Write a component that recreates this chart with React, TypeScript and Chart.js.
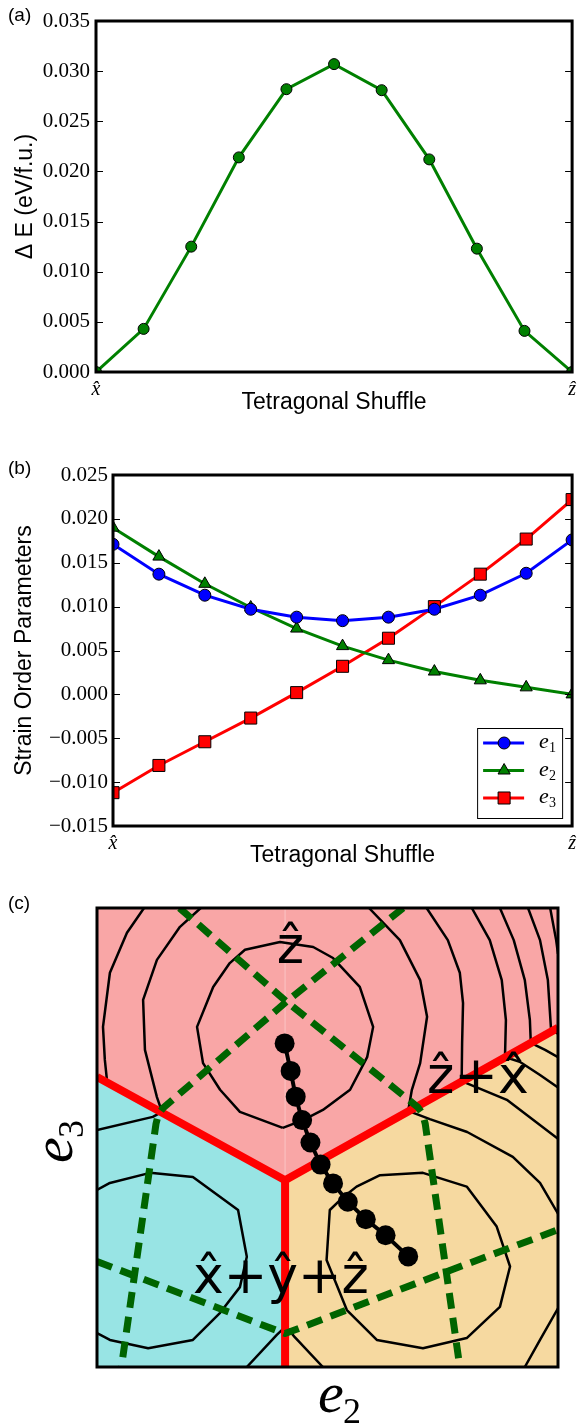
import React, { useEffect, useRef } from 'react';
import { Chart, registerables } from 'chart.js';
import { drawPoint } from 'chart.js/helpers';

Chart.register(...registerables);

// ---------------- Panel (a) data ----------------
const SHUFFLE_STEPS = [0, 1, 2, 3, 4, 5, 6, 7, 8, 9, 10];
const DELTA_E = [0.0, 0.0043, 0.0125, 0.0214, 0.0282, 0.0307, 0.0281, 0.0212, 0.0123, 0.0041, 0.0];
const X_TICK_VALUES = [0, 10];
const X_TICK_LABELS = ['x\u0302', 'z\u0302'];

// ---------------- Panel (b) data ----------------
const E1 = [0.0171, 0.0137, 0.0113, 0.0097, 0.0088, 0.0084, 0.0088, 0.0097, 0.0113, 0.0138, 0.0176];
const E2 = [0.019, 0.0157, 0.0126, 0.0099, 0.0075, 0.0055, 0.0039, 0.0026, 0.0016, 0.0008, 0.0];
const E3 = [-0.0112, -0.0081, -0.0054, -0.0027, 0.0002, 0.0032, 0.0064, 0.01, 0.0137, 0.0177, 0.0222];
const STRAIN_NAMES = ['e1', 'e2', 'e3'];

// ---------------- Panel (c) data (e2, e3 in plot units 0..100) ----------------
const REGION_Z = [[0, 100], [100, 100], [100, 73.9], [40.8, 40.7], [0, 63.2]];
const REGION_XYZ = [[0, 63.2], [40.8, 40.7], [40.8, 0], [0, 0]];
const REGION_ZX = [[40.8, 0], [40.8, 40.7], [100, 73.9], [100, 0]];
const REGION_SEAM = [[40.8, 40.7], [40.8, 100]];

const BOUNDARY_UPPER = [[0, 63.2], [40.8, 40.7], [100, 73.9]];
const BOUNDARY_LOWER = [[40.8, 40.7], [40.8, 0]];

const CONTOUR_Z_INNER = [[40.3, 52.1], [31.0, 55.6], [26.7, 60.4], [23.0, 66.2], [21.7, 74.1], [25.2, 82.8], [28.8, 88.0], [32.1, 90.9], [39.7, 92.6], [46.9, 91.5], [51.2, 89.1], [57.0, 82.8], [59.9, 74.1], [58.6, 67.5], [54.9, 60.4], [49.0, 56.0], [44.7, 53.8], [40.3, 52.1]];
const CONTOUR_ZX_INNER = [[53.4, 37.0], [56.3, 39.3], [61.4, 41.8], [70.7, 42.3], [80.2, 39.3], [86.7, 30.6], [89.6, 21.9], [87.4, 13.1], [80.2, 6.3], [70.7, 4.1], [60.7, 5.9], [54.2, 12.4], [49.8, 23.3], [50.5, 34.2], [53.4, 37.0]];
const CONTOUR_XYZ_INNER = [[0, 38.6], [2.8, 40.1], [11.5, 42.3], [20.8, 41.4], [30.6, 34.2], [32.5, 24.0], [31.0, 17.4], [26.7, 11.8], [20.8, 5.9], [11.1, 4.1], [2.8, 5.9], [0, 7.4]];
const CONTOUR_RING2_LEFT = [[0, 51.6], [12.1, 54.5], [14.1, 55.6], [13.0, 58.8], [10.4, 69.1], [10.0, 80.0], [13.0, 88.7], [18.0, 95.9], [22.5, 100]];
const CONTOUR_RING2_RIGHT = [[59.0, 100], [65.7, 93.0], [70.1, 84.3], [71.6, 76.3], [70.1, 66.2], [68.3, 60.4], [67.5, 55.8], [72.2, 54.0], [80.3, 51.2], [90.2, 45.8], [96.1, 40.1], [100, 33.4]];
const CONTOUR_RING2_BOTTOM = [[32.5, 0], [39.0, 7.0], [41.0, 8.9], [42.9, 6.5], [49.0, 0]];
const CONTOUR_RING2_CORNER = [[100, 12.8], [96.1, 5.9], [92.8, 0]];
const CONTOUR_RING3_LEFT = [[10.2, 100], [6.5, 94.6], [2.8, 85.9], [1.3, 74.1], [1.7, 66.9], [2.2, 62.1]];
const CONTOUR_RING3_RIGHT = [[71.5, 100], [76.1, 93.0], [78.7, 85.9], [79.4, 79.3], [79.2, 70.6], [79.1, 62.3], [88.9, 58.2], [100, 49.7]];
const CONTOUR_RING4 = [[81.3, 100], [85.2, 93.0], [87.8, 84.3], [88.7, 75.6], [88.5, 67.5], [91.7, 66.5], [96.1, 63.6], [100, 60.9]];
const CONTOUR_RING5 = [[87.4, 100], [90.4, 93.0], [92.8, 84.3], [93.9, 75.6], [94.1, 70.6], [97.2, 69.1], [100, 67.5]];
const CONTOUR_RING6 = [[93.5, 100], [96.1, 93.0], [97.8, 84.3], [98.5, 73.4], [100, 72.6]];
const CONTOUR_RING7 = [[98.3, 100], [99.6, 93.0], [100, 90.0]];
const CONTOURS = [
  CONTOUR_Z_INNER, CONTOUR_ZX_INNER, CONTOUR_XYZ_INNER, CONTOUR_RING2_LEFT, CONTOUR_RING2_RIGHT,
  CONTOUR_RING2_BOTTOM, CONTOUR_RING2_CORNER, CONTOUR_RING3_LEFT, CONTOUR_RING3_RIGHT,
  CONTOUR_RING4, CONTOUR_RING5, CONTOUR_RING6, CONTOUR_RING7,
];

const GREEN_A = [[17.9, 100], [41.1, 79.6], [69.6, 56.6], [70.6, 55.2], [71.2, 53.0], [78.7, 0]];
const GREEN_B = [[66.4, 100], [41.1, 79.6], [14.3, 56.4], [13.3, 55.0], [12.8, 53.0], [5.3, 0]];
const GREEN_C = [[0, 23.0], [38.9, 8.0], [40.8, 7.3], [42.7, 8.0], [75.4, 20.6], [100, 29.9]];

const PATH_E2 = [40.7, 42.0, 43.1, 44.5, 46.3, 48.5, 51.2, 54.4, 58.3, 62.6, 67.5];
const PATH_E3 = [70.5, 64.5, 58.9, 53.8, 48.9, 44.1, 40.0, 36.0, 32.2, 28.7, 24.1];

const REGION_LABELS = ['\u1E91', '\u1E91+x\u0302', 'x\u0302+\u0177+\u1E91'];
const REGION_LABEL_AT = [[39.0, 88.0], [71.6, 59.7], [20.8, 16.1]];

// ---------------- styling ----------------
const SERIF = '"Liberation Serif", "Times New Roman", serif';
const SANS = '"Liberation Sans", Arial, sans-serif';

const fmtTick = (v: any) => {
  const n = Number(v);
  const s = Math.abs(n).toFixed(3);
  return (n < -1e-9 ? '\u2212' : '') + s;
};

function axesDecor(o: { panel: string; px: number; py: number; yTitle: string; yTitleX: number; xTitle: string; xTitleY: number }) {
  return {
    id: 'axesDecor',
    afterDraw(chart: any) {
      const { ctx, chartArea: a, scales } = chart;
      ctx.save();
      ctx.strokeStyle = '#000';
      ctx.lineWidth = 1;
      const ys = scales.y;
      ys.ticks.forEach((t: any) => {
        const py = Math.round(ys.getPixelForValue(t.value)) + 0.5;
        ctx.beginPath();
        ctx.moveTo(a.left, py);
        ctx.lineTo(a.left + 7, py);
        ctx.moveTo(a.right, py);
        ctx.lineTo(a.right - 7, py);
        ctx.stroke();
      });
      ctx.lineWidth = 3;
      ctx.strokeRect(a.left, a.top, a.right - a.left, a.bottom - a.top);
      ctx.fillStyle = '#000';
      ctx.font = `23px ${SANS}`;
      ctx.textAlign = 'center';
      ctx.textBaseline = 'alphabetic';
      ctx.fillText(o.xTitle, (a.left + a.right) / 2, o.xTitleY);
      ctx.save();
      ctx.translate(o.yTitleX, (a.top + a.bottom) / 2);
      ctx.rotate(-Math.PI / 2);
      ctx.fillText(o.yTitle, 0, 0);
      ctx.restore();
      ctx.font = `19px ${SANS}`;
      ctx.textAlign = 'left';
      ctx.fillText(o.panel, o.px, o.py);
      ctx.restore();
    },
  };
}

function lineOptions(yMin: number, yMax: number, yWidth: number, xHeight: number, padding: any, yPad: number) {
  return {
    responsive: false,
    animation: false,
    events: [],
    layout: { padding },
    plugins: { legend: { display: false }, tooltip: { enabled: false } },
    scales: {
      x: {
        type: 'linear',
        min: 0,
        max: 10,
        afterBuildTicks: (s: any) => {
          s.ticks = X_TICK_VALUES.map((v) => ({ value: v }));
        },
        afterFit: (s: any) => {
          s.height = xHeight;
        },
        grid: { display: false, drawTicks: false },
        border: { display: false },
        ticks: {
          padding: 6,
          maxRotation: 0,
          autoSkip: false,
          color: '#000',
          font: { family: SERIF, size: 20, style: 'italic' },
          callback: (_v: any, i: number) => X_TICK_LABELS[i],
        },
      },
      y: {
        type: 'linear',
        min: yMin,
        max: yMax,
        afterFit: (s: any) => {
          s.width = yWidth;
        },
        grid: { display: false, drawTicks: false },
        border: { display: false },
        ticks: { stepSize: 0.005, padding: yPad, color: '#000', font: { family: SERIF, size: 21 }, callback: fmtTick },
      },
    },
  };
}

function PanelA() {
  const ref = useRef<HTMLCanvasElement>(null);
  useEffect(() => {
    const chart = new Chart(ref.current as HTMLCanvasElement, {
      type: 'line',
      data: {
        datasets: [
          {
            data: SHUFFLE_STEPS.map((x, i) => ({ x, y: DELTA_E[i] })),
            borderColor: '#008000',
            backgroundColor: '#008000',
            borderWidth: 3,
            pointRadius: 5.5,
            pointBackgroundColor: '#008000',
            pointBorderColor: '#000',
            pointBorderWidth: 1,
            tension: 0,
            clip: 0,
          },
        ],
      },
      options: lineOptions(0, 0.035, 96, 48, { left: 0, top: 21, right: 5, bottom: 0 }, 6) as any,
      plugins: [axesDecor({ panel: '(a)', px: 8, py: 21, yTitle: '\u0394 E (eV/f.u.)', yTitleX: 32, xTitle: 'Tetragonal Shuffle', xTitleY: 409 })],
    } as any);
    return () => chart.destroy();
  }, []);
  return <canvas ref={ref} width={582} height={420} style={{ position: 'absolute', left: 0, top: 0, width: 582, height: 420 }} />;
}

const strainLegend = {
  id: 'strainLegend',
  afterDraw(chart: any) {
    const { ctx, chartArea: a } = chart;
    const w = 85;
    const h = 90;
    const x0 = a.right - 10 - w;
    const y0 = a.bottom - 8 - h;
    ctx.save();
    ctx.fillStyle = '#fff';
    ctx.fillRect(x0, y0, w, h);
    ctx.strokeStyle = '#000';
    ctx.lineWidth = 1;
    ctx.strokeRect(x0 + 0.5, y0 + 0.5, w, h);
    chart.data.datasets.forEach((ds: any, i: number) => {
      const cy = y0 + 15 + i * 27.5;
      ctx.strokeStyle = ds.borderColor;
      ctx.lineWidth = 3;
      ctx.beginPath();
      ctx.moveTo(x0 + 6, cy);
      ctx.lineTo(x0 + 47, cy);
      ctx.stroke();
      ctx.fillStyle = ds.pointBackgroundColor;
      ctx.strokeStyle = '#000';
      ctx.lineWidth = 1;
      drawPoint(ctx, { pointStyle: ds.pointStyle, radius: ds.pointRadius, rotation: 0, borderWidth: 1 } as any, x0 + 27, cy);
      ctx.fillStyle = '#000';
      ctx.textAlign = 'left';
      ctx.textBaseline = 'alphabetic';
      ctx.font = `italic 22px ${SERIF}`;
      ctx.fillText(ds.label.charAt(0), x0 + 62, cy + 5);
      ctx.font = `14px ${SERIF}`;
      ctx.fillText(ds.label.slice(1), x0 + 72, cy + 9);
    });
    ctx.restore();
  },
};

function PanelB() {
  const ref = useRef<HTMLCanvasElement>(null);
  useEffect(() => {
    const mk = (label: string, vals: number[], color: string, style: string, r: number) => ({
      label,
      data: SHUFFLE_STEPS.map((x, i) => ({ x, y: vals[i] })),
      borderColor: color,
      backgroundColor: color,
      borderWidth: 3,
      pointStyle: style,
      pointRadius: r,
      pointBackgroundColor: color,
      pointBorderColor: '#000',
      pointBorderWidth: 1,
      tension: 0,
      clip: 0,
    });
    const chart = new Chart(ref.current as HTMLCanvasElement, {
      type: 'line',
      data: {
        datasets: [
          mk(STRAIN_NAMES[0], E1, '#0000ff', 'circle', 6),
          mk(STRAIN_NAMES[1], E2, '#008000', 'triangle', 7),
          mk(STRAIN_NAMES[2], E3, '#ff0000', 'rect', 8.5),
        ],
      },
      options: lineOptions(-0.015, 0.025, 113, 44, { left: 0, top: 55, right: 4, bottom: 0 }, 5) as any,
      plugins: [
        axesDecor({ panel: '(b)', px: 8, py: 54, yTitle: 'Strain Order Parameters', yTitleX: 31, xTitle: 'Tetragonal Shuffle', xTitleY: 442 }),
        strainLegend,
      ],
    } as any);
    return () => chart.destroy();
  }, []);
  return <canvas ref={ref} width={582} height={450} style={{ position: 'absolute', left: 0, top: 420, width: 582, height: 450 }} />;
}

const pts = (arr: number[][]) => arr.map(([x, y]) => ({ x, y }));

const mapDecor = {
  id: 'mapDecor',
  afterDatasetsDraw(chart: any) {
    const { ctx, chartArea: a, scales } = chart;
    ctx.save();
    ctx.fillStyle = '#000';
    ctx.textAlign = 'left';
    ctx.textBaseline = 'alphabetic';
    ctx.font = '52px "DejaVu Sans", sans-serif';
    REGION_LABELS.forEach((t, i) => {
      const [x, y] = REGION_LABEL_AT[i];
      ctx.fillText(t, scales.x.getPixelForValue(x), scales.y.getPixelForValue(y));
    });
    ctx.strokeStyle = '#000';
    ctx.lineWidth = 3;
    ctx.strokeRect(a.left, a.top, a.right - a.left, a.bottom - a.top);
    // axis labels e2 / e3
    ctx.font = `italic 58px ${SERIF}`;
    ctx.fillText('e', 318, 542);
    ctx.font = `36px ${SERIF}`;
    ctx.fillText('2', 343, 553);
    ctx.save();
    ctx.translate(72, 293);
    ctx.rotate(-Math.PI / 2);
    ctx.font = `italic 58px ${SERIF}`;
    ctx.fillText('e', 0, 0);
    ctx.font = `36px ${SERIF}`;
    ctx.fillText('3', 25, 11);
    ctx.restore();
    ctx.font = `19px ${SANS}`;
    ctx.fillText('(c)', 8, 39);
    ctx.restore();
  },
};

function PanelC() {
  const ref = useRef<HTMLCanvasElement>(null);
  useEffect(() => {
    const region = (d: number[][], color: string) => ({
      data: pts(d), showLine: true, fill: 'shape', backgroundColor: color, borderColor: 'rgba(0,0,0,0)',
      borderWidth: 0, pointRadius: 0, order: 10, clip: 0, tension: 0,
    });
    const contour = (d: number[][]) => ({
      data: pts(d), showLine: true, fill: false, borderColor: '#000', borderWidth: 2.5, pointRadius: 0,
      order: 6, clip: 0, tension: 0, borderJoinStyle: 'round',
    });
    const boundary = (d: number[][]) => ({
      data: pts(d), showLine: true, fill: false, borderColor: '#ff0000', borderWidth: 8, pointRadius: 0,
      order: 4, clip: 0, tension: 0, borderJoinStyle: 'miter',
    });
    const green = (d: number[][]) => ({
      data: pts(d), showLine: true, fill: false, borderColor: '#006400', borderWidth: 7, pointRadius: 0,
      order: 3, clip: 0, tension: 0, borderDash: [16, 9], borderCapStyle: 'butt', borderJoinStyle: 'round',
    });
    const chart = new Chart(ref.current as HTMLCanvasElement, {
      type: 'scatter',
      data: {
        datasets: [
          region(REGION_Z, '#f9a6a6'),
          region(REGION_XYZ, '#98e4e4'),
          region(REGION_ZX, '#f6d9a0'),
          {
            data: pts(REGION_SEAM), showLine: true, fill: false, borderColor: 'rgba(255,255,255,0.35)', borderWidth: 1,
            pointRadius: 0, order: 9, clip: 0,
          },
          ...CONTOURS.map(contour),
          boundary(BOUNDARY_UPPER),
          boundary(BOUNDARY_LOWER),
          green(GREEN_A),
          green(GREEN_B),
          green(GREEN_C),
          {
            data: PATH_E2.map((x, i) => ({ x, y: PATH_E3[i] })),
            showLine: true, fill: false, borderColor: '#000', borderWidth: 4, pointRadius: 10,
            pointBackgroundColor: '#000', pointBorderWidth: 0, order: 1, clip: 0, tension: 0,
          },
        ],
      },
      options: {
        responsive: false,
        animation: false,
        events: [],
        layout: { padding: { left: 97, top: 38, right: 24, bottom: 59 } },
        plugins: { legend: { display: false }, tooltip: { enabled: false } },
        scales: {
          x: { type: 'linear', min: 0, max: 100, display: false },
          y: { type: 'linear', min: 0, max: 100, display: false },
        },
      } as any,
      plugins: [mapDecor],
    } as any);
    return () => chart.destroy();
  }, []);
  return <canvas ref={ref} width={582} height={556} style={{ position: 'absolute', left: 0, top: 870, width: 582, height: 556 }} />;
}

export default function App() {
  return (
    <div style={{ position: 'absolute', left: 0, top: 0, width: 582, height: 1426, background: '#fff', overflow: 'hidden' }}>
      <PanelA />
      <PanelB />
      <PanelC />
    </div>
  );
}
